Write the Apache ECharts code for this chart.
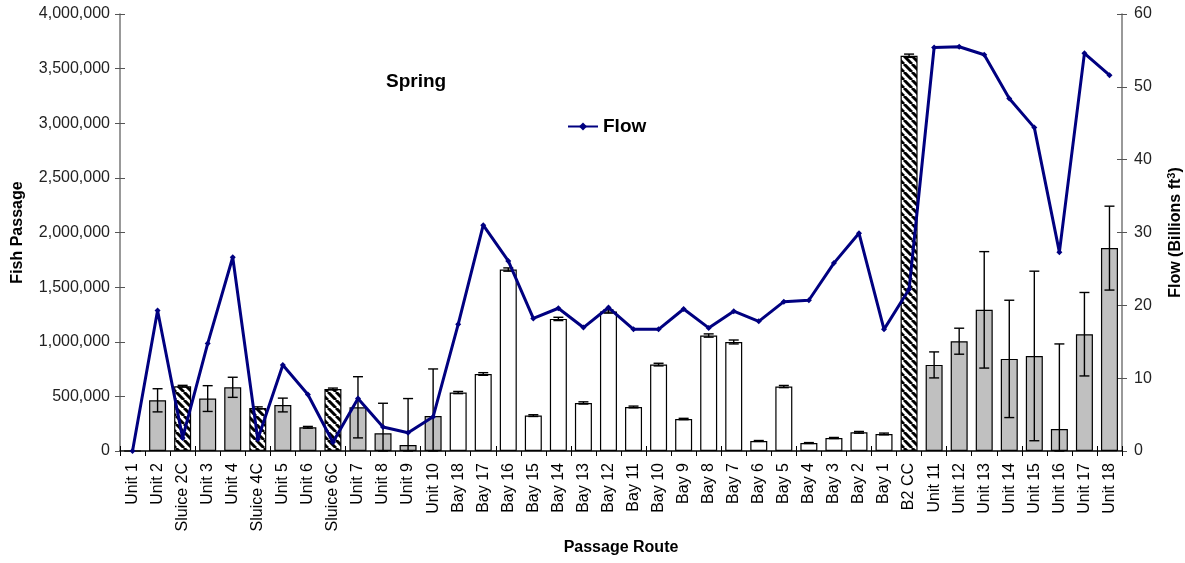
<!DOCTYPE html>
<html><head><meta charset="utf-8">
<script src="https://cdn.jsdelivr.net/npm/echarts@6/dist/echarts.min.js"></script>
<style>html,body{margin:0;padding:0;background:#fff}#c{width:1185px;height:563px}</style>
</head><body><div id="c"></div>
<script>
const categories = ['Unit 1','Unit 2','Sluice 2C','Unit 3','Unit 4','Sluice 4C','Unit 5','Unit 6','Sluice 6C','Unit 7','Unit 8','Unit 9','Unit 10','Bay 18','Bay 17','Bay 16','Bay 15','Bay 14','Bay 13','Bay 12','Bay 11','Bay 10','Bay 9','Bay 8','Bay 7','Bay 6','Bay 5','Bay 4','Bay 3','Bay 2','Bay 1','B2 CC','Unit 11','Unit 12','Unit 13','Unit 14','Unit 15','Unit 16','Unit 17','Unit 18'];
const fishPassage = [0,464000,593000,480000,583000,394000,421000,217000,568000,400000,162000,55000,321000,535000,705000,1661000,324000,1209000,440000,1277000,403000,791000,293000,1057000,998000,92000,590000,73000,119000,171000,156000,3618000,788000,1005000,1292000,843000,870000,202000,1069000,1857000];
const passageError = [0,106000,8000,118000,92000,10000,63000,8000,8000,280000,275000,425000,430000,10000,12000,15000,8000,15000,10000,15000,8000,12000,6000,15000,18000,4000,10000,4000,5000,8000,8000,15000,119000,119000,533000,537000,776000,778000,382000,384000];
const flow = [0,19.3,1.8,14.75,26.6,1.6,11.8,7.75,1.2,7.2,3.3,2.5,4.7,17.4,31.0,26.1,18.2,19.6,16.95,19.7,16.7,16.7,19.5,16.9,19.2,17.8,20.5,20.7,25.8,29.9,16.7,22.2,55.4,55.5,54.4,48.4,44.4,27.3,54.6,51.6];
const leftTicks = {min:0, max:4000000, interval:500000};
const rightTicks = {min:0, max:60, interval:10};

// hatch pattern
const pc = document.createElement('canvas'); pc.width = 8; pc.height = 8;
const g = pc.getContext('2d');
g.fillStyle = '#fff'; g.fillRect(0,0,8,8);
g.strokeStyle = '#000'; g.lineWidth = 3;
g.beginPath();
for (let k = -16; k <= 16; k += 8) { g.moveTo(k, 0); g.lineTo(k + 8, 8); }
g.stroke();
const hatch = {image: pc, repeat: 'repeat'};

function barColor(name){
  if (name.startsWith('Sluice') || name.startsWith('B2')) return hatch;
  if (name.startsWith('Bay')) return '#ffffff';
  return '#c0c0c0';
}

const barData = fishPassage.map((v,i)=>({value:v, itemStyle:{color:barColor(categories[i])}}));
const errData = fishPassage.map((v,i)=>[i, Math.max(0, v - passageError[i]), v + passageError[i], passageError[i]]).filter(d=>d[3]>0);

const FONT = 'Liberation Sans, Arial, sans-serif';
const chart = echarts.init(document.getElementById('c'), null, {renderer:'canvas'});
chart.setOption({
  animation:false,
  backgroundColor:'#fff',
  textStyle:{fontFamily:FONT},
  title:{text:'Spring', left:381, top:67, textStyle:{fontFamily:FONT, fontSize:19, fontWeight:'bold', color:'#000'}},
  legend:{data:[{name:'Flow'}], left:562, top:112, itemWidth:30, itemHeight:10, itemGap:5,
    textStyle:{fontFamily:FONT, fontSize:19, fontWeight:'bold', color:'#000'}},
  grid:{left:120, right:63, top:14, bottom:112, outerBoundsMode:'none', containLabel:false},
  xAxis:[{
    type:'category', data:categories, position:'bottom',
    name:'Passage Route', nameLocation:'middle', nameGap:89,
    nameTextStyle:{fontFamily:FONT, fontSize:16, fontWeight:'bold', color:'#000'},
    axisLine:{lineStyle:{color:'#000', width:1.5}},
    axisTick:{show:true, length:5, lineStyle:{color:'#000'}},
    axisLabel:{rotate:90, interval:0, margin:12, fontFamily:FONT, fontSize:16, color:'#000'}
  },{
    type:'category', data:categories, position:'bottom',
    axisLine:{show:false}, axisTick:{show:true, inside:true, length:5, lineStyle:{color:'#000'}},
    axisLabel:{show:false}
  }],
  yAxis:[{
    type:'value', position:'left', min:leftTicks.min, max:leftTicks.max, interval:leftTicks.interval,
    name:'Fish Passage', nameLocation:'middle', nameGap:94, nameRotate:90,
    nameTextStyle:{fontFamily:FONT, fontSize:16, fontWeight:'bold', color:'#000'},
    axisLine:{show:true, lineStyle:{color:'#777', width:1.5}},
    axisTick:{show:true, length:5, lineStyle:{color:'#555'}},
    splitLine:{show:false},
    axisLabel:{margin:10, fontFamily:FONT, fontSize:16, color:'#222', formatter:v=>v.toLocaleString('en-US')}
  },{
    type:'value', position:'right', min:rightTicks.min, max:rightTicks.max, interval:rightTicks.interval,
    name:'Flow (Billions ft{sup|3})', nameLocation:'middle', nameGap:44, nameRotate:90,
    nameTextStyle:{fontFamily:FONT, fontSize:16, fontWeight:'bold', color:'#000',
      rich:{sup:{fontFamily:FONT, fontSize:11, fontWeight:'bold', color:'#000', verticalAlign:'top', padding:[0,0,8,0]}}},
    axisLine:{show:true, lineStyle:{color:'#777', width:1.5}},
    axisTick:{show:true, length:5, lineStyle:{color:'#555'}},
    splitLine:{show:false},
    axisLabel:{margin:12, fontFamily:FONT, fontSize:16, color:'#222'}
  },{
    type:'value', position:'left', min:leftTicks.min, max:leftTicks.max, interval:leftTicks.interval,
    axisLine:{show:false}, axisTick:{show:true, inside:true, length:5, lineStyle:{color:'#555'}},
    axisLabel:{show:false}, splitLine:{show:false}
  },{
    type:'value', position:'right', min:rightTicks.min, max:rightTicks.max, interval:rightTicks.interval,
    axisLine:{show:false}, axisTick:{show:true, inside:true, length:5, lineStyle:{color:'#555'}},
    axisLabel:{show:false}, splitLine:{show:false}
  }],
  series:[{
    name:'Fish Passage', type:'bar', xAxisIndex:0, yAxisIndex:0, data:barData, barWidth:17,
    itemStyle:{borderColor:'#000', borderWidth:1.2}, z:2
  },{
    name:'err', type:'custom', xAxisIndex:0, yAxisIndex:0, data:errData, z:3,
    renderItem:function(params, api){
      const x = api.value(0);
      const pLo = api.coord([x, api.value(1)]);
      const pHi = api.coord([x, api.value(2)]);
      const hw = 5;
      const st = {stroke:'#000', lineWidth:1.4};
      return {type:'group', children:[
        {type:'line', shape:{x1:pHi[0], y1:pHi[1], x2:pLo[0], y2:pLo[1]}, style:st},
        {type:'line', shape:{x1:pHi[0]-hw, y1:pHi[1], x2:pHi[0]+hw, y2:pHi[1]}, style:st},
        {type:'line', shape:{x1:pLo[0]-hw, y1:pLo[1], x2:pLo[0]+hw, y2:pLo[1]}, style:st}
      ]};
    }
  },{
    name:'Flow', type:'line', xAxisIndex:0, yAxisIndex:1, data:flow, z:5,
    symbol:'diamond', symbolSize:6, showSymbol:true,
    lineStyle:{color:'#000080', width:3},
    itemStyle:{color:'#000080', borderWidth:0}
  }]
});
</script></body></html>
